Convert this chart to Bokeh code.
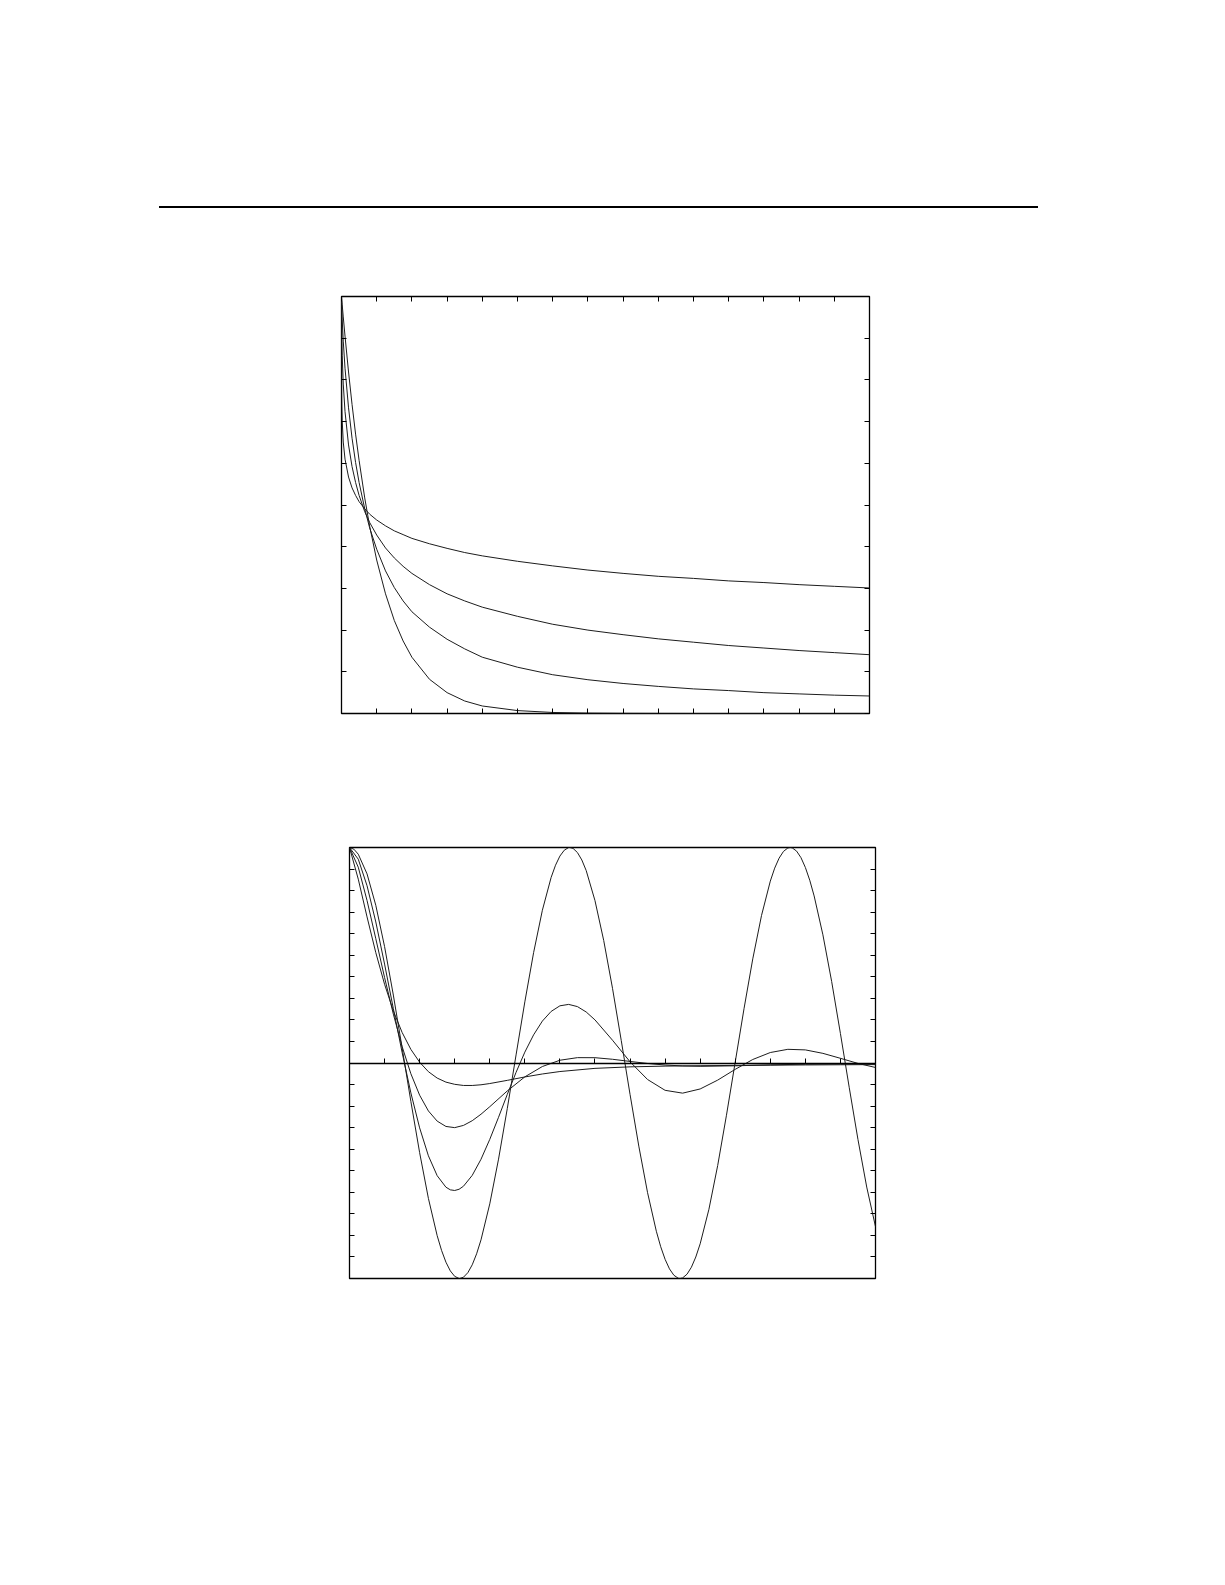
from bokeh.plotting import figure
from bokeh.models import LinearAxis, Range1d, FixedTicker, Spacer, Div
from bokeh.layouts import column, row
from bokeh.embed import file_html
from bokeh.resources import INLINE

# ---------------- top panel: four decaying curves ----------------
t_top = [0, 0.001, 0.005, 0.01, 0.02, 0.05, 0.1, 0.2, 0.3, 0.4, 0.5, 0.66, 0.8,
         1.0, 1.25, 1.5, 1.75, 2.0, 2.5, 3.0, 3.5, 4.0, 5.0, 6.0, 7.0, 8.0, 9.0,
         10.0, 11.0, 12.0, 13.0, 14.0, 15.0]
top_a025 = [1.0, 0.834, 0.770, 0.737, 0.702, 0.651, 0.610, 0.567, 0.541, 0.523, 0.508,
            0.491, 0.478, 0.464, 0.450, 0.438, 0.429, 0.420, 0.407, 0.396, 0.386, 0.378,
            0.365, 0.354, 0.344, 0.336, 0.329, 0.324, 0.318, 0.314, 0.309, 0.305, 0.301]
top_a050 = [1.0, 0.965, 0.925, 0.897, 0.859, 0.790, 0.724, 0.644, 0.592, 0.554, 0.523,
            0.484, 0.458, 0.428, 0.397, 0.373, 0.353, 0.336, 0.309, 0.287, 0.270, 0.255,
            0.233, 0.214, 0.200, 0.189, 0.179, 0.171, 0.163, 0.157, 0.151, 0.146, 0.141]
top_a075 = [1.0, 0.994, 0.980, 0.966, 0.944, 0.893, 0.828, 0.733, 0.660, 0.602, 0.554,
            0.491, 0.445, 0.394, 0.342, 0.302, 0.270, 0.244, 0.207, 0.178, 0.155, 0.135,
            0.111, 0.093, 0.081, 0.072, 0.065, 0.059, 0.055, 0.050, 0.047, 0.044, 0.042]
top_a100 = [1.0, 0.999, 0.995, 0.990, 0.980, 0.951, 0.905, 0.819, 0.741, 0.670, 0.607,
            0.517, 0.449, 0.368, 0.287, 0.223, 0.174, 0.135, 0.082, 0.050, 0.030, 0.018,
            0.007, 0.0025, 0.0009, 0.0003, 0.0001, 0.0, 0.0, 0.0, 0.0, 0.0, 0.0]
top_xticks = [0, 1, 2, 3, 4, 5, 6, 7, 8, 9, 10, 11, 12, 13, 14, 15]
top_yticks = [0.0, 0.1, 0.2, 0.3, 0.4, 0.5, 0.6, 0.7, 0.8, 0.9, 1.0]

# ---------------- bottom panel: oscillating curves ----------------
t_a200 = [0.0, 0.125, 0.25, 0.5, 0.75, 1.0, 1.25, 1.5, 1.75, 2.0, 2.25, 2.5, 2.625, 2.75,
          2.875, 3.0, 3.125, 3.1416, 3.25, 3.375, 3.5, 3.625, 3.75, 4.0, 4.25, 4.5, 4.75,
          5.0, 5.25, 5.5, 5.75, 5.875, 6.0, 6.125, 6.25, 6.2832, 6.375, 6.5, 6.625, 6.75,
          7.0, 7.25, 7.5, 7.75, 8.0, 8.25, 8.5, 8.75, 8.875, 9.0, 9.125, 9.25, 9.375,
          9.4248, 9.5, 9.625, 9.75, 9.875, 10.0, 10.25, 10.5, 10.75, 11.0, 11.25, 11.5,
          11.75, 12.0, 12.125, 12.25, 12.375, 12.5, 12.5664, 12.625, 12.75, 12.875, 13.0,
          13.125, 13.25, 13.5, 13.75, 14.0, 14.25, 14.5, 14.75, 15.0]
bot_a200 = [1.0, 0.9922, 0.9689, 0.8776, 0.7317, 0.5403, 0.3153, 0.0707, -0.1782, -0.4161,
            -0.6282, -0.8011, -0.8695, -0.9243,
            -0.9647, -0.9900, -0.9999, -1.0, -0.9941, -0.9729, -0.9365, -0.8854, -0.8206,
            -0.6536, -0.4461, -0.2108, 0.0376,
            0.2837, 0.5121, 0.7087, 0.8612, 0.9178, 0.9602, 0.9875, 0.9999, 1.0, 0.9958,
            0.9766, 0.9422, 0.8930,
            0.7539, 0.5683, 0.3466, 0.1038, -0.1455, -0.3857, -0.6018, -0.7808, -0.8526,
            -0.9111, -0.9554, -0.9849, -0.9988,
            -1.0, -0.9972, -0.9800, -0.9477, -0.9003, -0.8391, -0.6787, -0.4755, -0.2424,
            0.0044, 0.2517, 0.4833,
            0.6849, 0.8439, 0.9042, 0.9503, 0.9817, 0.9978, 1.0, 0.9983, 0.9832, 0.9528,
            0.9074,
            0.8480, 0.7753, 0.5949, 0.3781, 0.1367, -0.1126, -0.3549, -0.5758, -0.7597]

t_a175 = [0.0, 0.25, 0.5, 0.75, 1.0, 1.25, 1.5, 1.75, 2.0, 2.25, 2.5, 2.75, 2.875, 3.0,
          3.125, 3.25, 3.5, 3.75, 4.0, 4.25, 4.5, 4.75, 5.0, 5.25, 5.5, 5.75, 6.0, 6.25,
          6.5, 6.75, 7.0, 7.5, 8.0, 8.5, 9.0, 9.5, 10.0, 10.5, 11.0, 11.5, 12.0, 12.5,
          13.0, 13.5, 14.0, 14.5, 15.0]
bot_a175 = [1.0, 0.9457, 0.8226, 0.6544, 0.4590, 0.2525, 0.0491, -0.1387, -0.3010, -0.4306,
            -0.5229, -0.5763, -0.5886, -0.5916,
            -0.5859, -0.5718, -0.5214, -0.4467, -0.3544, -0.2519, -0.1455, -0.0433, 0.0504,
            0.1306, 0.1945, 0.2393, 0.2653, 0.2719,
            0.2617, 0.2367, 0.2001, 0.1057, 0.0057, -0.0767, -0.1268, -0.1399, -0.1205,
            -0.0794, -0.0294, 0.0163, 0.0486, 0.0635,
            0.0608, 0.0448, 0.0218, -0.0019, -0.0208]

t_a150 = [0.0, 0.25, 0.5, 0.75, 1.0, 1.25, 1.5, 1.75, 2.0, 2.25, 2.5, 2.75, 3.0,
          3.25, 3.5, 3.75, 4.0, 4.5, 5.0, 5.5, 6.0, 6.5, 7.0, 7.5, 8.0, 8.5, 9.0, 9.5,
          10.0, 11.0, 12.0, 13.0, 14.0, 15.0]
bot_a150 = [1.0, 0.9085, 0.7541, 0.5767, 0.3966, 0.2270, 0.0765, -0.0498, -0.1494, -0.2225,
            -0.2697, -0.2944, -0.2999, -0.2896, -0.2678, -0.2377, -0.2028, -0.1295, -0.0643,
            -0.0163, 0.0128, 0.0248, 0.0246, 0.0173, 0.0073, -0.0022, -0.0094, -0.0137,
            -0.0153, -0.0131, -0.0086, -0.0055, -0.0043, -0.0041]

t_a125 = [0.0, 0.25, 0.5, 0.75, 1.0, 1.25, 1.5, 1.75, 2.0, 2.25, 2.5, 2.75, 3.0,
          3.25, 3.5, 3.75, 4.0, 4.5, 5.0, 5.5, 6.0, 7.0, 8.0, 9.0, 10.0, 11.0, 12.0,
          13.0, 14.0, 15.0]
bot_a125 = [1.0, 0.8531, 0.6779, 0.5120, 0.3655, 0.2422, 0.1419, 0.0632, 0.0036, -0.0403,
            -0.0699, -0.0887, -0.0989, -0.1042, -0.1043, -0.1011, -0.0953, -0.0805, -0.0648,
            -0.0509, -0.0396, -0.0249, -0.0179, -0.0145, -0.0126, -0.0112, -0.0101, -0.0090,
            -0.0082, -0.0074]
bot_xticks = [0, 1, 2, 3, 4, 5, 6, 7, 8, 9, 10, 11, 12, 13, 14, 15]
bot_yticks = [-1.0, -0.9, -0.8, -0.7, -0.6, -0.5, -0.4, -0.3, -0.2, -0.1, 0.0,
              0.1, 0.2, 0.3, 0.4, 0.5, 0.6, 0.7, 0.8, 0.9, 1.0]

CURVE = "#1c1c1c"


def make_axis(ticks, tick_len=5, line_color=None, line_width=1):
    ax = LinearAxis(ticker=FixedTicker(ticks=ticks, minor_ticks=[]))
    ax.major_tick_in = tick_len
    ax.major_tick_out = 0
    ax.minor_tick_in = 0
    ax.minor_tick_out = 0
    ax.major_label_text_font_size = "0px"
    ax.major_label_text_color = None
    ax.major_label_standoff = 0
    ax.major_tick_line_color = "black"
    ax.major_tick_line_width = 1
    ax.axis_line_color = line_color
    ax.axis_line_width = line_width
    return ax


def base_fig(fw, fh, yr):
    p = figure(frame_width=fw, frame_height=fh, x_range=Range1d(0, 15), y_range=Range1d(*yr),
               x_axis_type=None, y_axis_type=None, toolbar_location=None,
               output_backend="svg", min_border=10)
    p.outline_line_color = "black"
    p.outline_line_width = 1.3
    p.background_fill_color = "white"
    p.border_fill_color = "white"
    return p


# top plot
p1 = base_fig(528, 417, (0, 1))
p1.add_layout(make_axis(top_yticks), "left")
p1.add_layout(make_axis(top_yticks), "right")
p1.add_layout(make_axis(top_xticks), "above")
p1.add_layout(make_axis(top_xticks), "below")
for ys in (top_a025, top_a050, top_a075, top_a100):
    p1.line(t_top, ys, line_color=CURVE, line_width=1)

# bottom plot
p2 = base_fig(526, 431, (-1, 1))
p2.add_layout(make_axis(bot_yticks), "left")
p2.add_layout(make_axis(bot_yticks), "right")
zero_axis = make_axis(bot_xticks, line_color="black", line_width=1.6)
zero_axis.fixed_location = 0
p2.add_layout(zero_axis, "below")
p2.line(t_a200, bot_a200, line_color=CURVE, line_width=1)
p2.line(t_a175, bot_a175, line_color=CURVE, line_width=1)
p2.line(t_a150, bot_a150, line_color=CURVE, line_width=1)
p2.line(t_a125, bot_a125, line_color=CURVE, line_width=1)

rule = Div(text="", width=879, height=2, styles={"background-color": "black"})

layout = column(
    Spacer(height=201),
    row(Spacer(width=154), rule),
    Spacer(height=73),
    row(Spacer(width=331), p1),
    Spacer(height=114),
    row(Spacer(width=339), p2),
)

open("out.html", "w").write(file_html(layout, INLINE))
